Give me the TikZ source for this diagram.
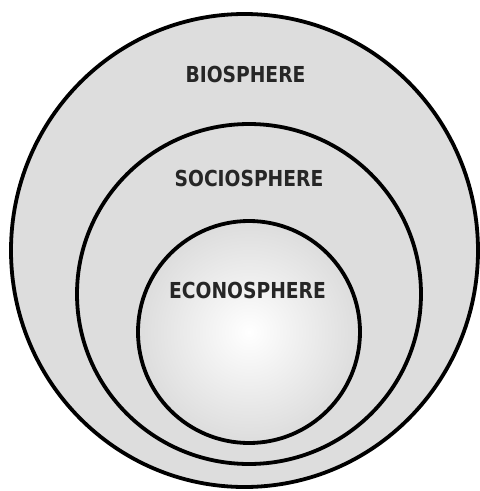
\documentclass[tikz,border=0pt]{standalone}
\usepackage{graphicx}
\usepackage{fontspec}
\newfontfamily\labelfont{DejaVu Sans Condensed}[BoldFont={DejaVu Sans Condensed Bold}]
\newcommand{\spherename}[1]{\scalebox{0.945}[1]{#1}}
\begin{document}
\begin{tikzpicture}[x=1pt,y=-1pt,
  sphere/.style={draw=black,line width=3.8pt,fill=gray!27},
  spherelabel/.style={font=\labelfont\bfseries\fontsize{22}{22}\selectfont,text=black!85}]
\useasboundingbox (0,0) rectangle (480,491);

\draw[sphere] (244.5,250.5) ellipse (233.5 and 236.5);
\draw[sphere] (249,294) ellipse (172 and 170);
\shade[inner color=white,outer color=gray!27] (249,332) circle (111);
\draw[line width=3.8pt] (249,332) circle (111);

\node[spherelabel] (bio) at (245.5,74) {\spherename{BIOSPHERE}};
\node[spherelabel] (socio) at (249,178.5) {\spherename{SOCIOSPHERE}};
\node[spherelabel] (econo) at (247.5,290) {\spherename{ECONOSPHERE}};
\end{tikzpicture}
\end{document}
